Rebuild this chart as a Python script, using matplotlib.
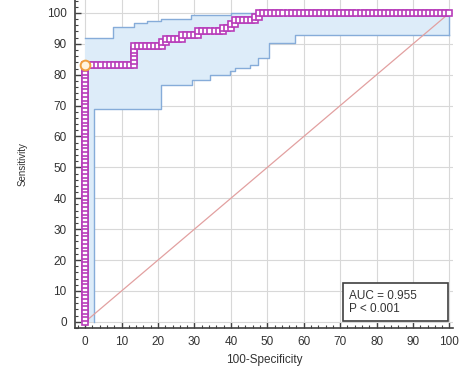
import matplotlib
matplotlib.use("Agg")
import matplotlib.pyplot as plt
from matplotlib.ticker import MultipleLocator

plt.rcParams['font.family'] = ['Liberation Sans', 'DejaVu Sans']

# ---- ROC points (100-Specificity, Sensitivity) ----
roc_fpr = [
    0, 0, 0, 0, 0, 0, 0, 0, 0, 0, 0, 0,
    0, 0, 0, 0, 0, 0, 0, 0, 0, 0, 0, 0,
    0, 0, 0, 0, 0, 0, 0, 0, 0, 0, 0, 0,
    0, 0, 0, 0, 0, 0, 0, 0, 0, 0, 0, 0,
    0, 0, 0, 0, 0, 0, 0, 0, 0, 0, 0, 0,
    0, 0, 0, 0, 0, 0, 0, 0, 0, 0, 0,
    1.1, 2.2, 3.3, 4.4, 5.6, 6.7, 7.8, 8.9, 10.0, 11.1, 12.2, 13.3,
    13.3, 13.3, 13.3, 13.3, 13.3,
    14.4, 15.6, 16.7, 17.8, 18.9, 20.0, 21.1,
    21.1, 22.2,
    22.2, 23.3, 24.4, 25.6, 26.7,
    26.7, 27.8, 28.9, 30.0, 31.1,
    31.1, 32.2, 33.3, 34.4, 35.6, 36.7, 37.8,
    37.8, 38.9, 40.0,
    40.0, 41.1,
    41.1, 42.2, 43.3, 44.4, 45.6, 46.7,
    46.7, 47.8,
    47.8, 48.9, 50.0, 51.1, 52.2, 53.3, 54.4, 55.6, 56.7, 57.8, 58.9, 60.0,
    61.1, 62.2, 63.3, 64.4, 65.6, 66.7, 67.8, 68.9, 70.0, 71.1, 72.2, 73.3,
    74.4, 75.6, 76.7, 77.8, 78.9, 80.0, 81.1, 82.2, 83.3, 84.4, 85.6, 86.7,
    87.8, 88.9, 90.0, 91.1, 92.2, 93.3, 94.4, 95.6, 96.7, 97.8, 98.9, 100.0,
]
roc_tpr = [
    0.0, 1.2, 2.4, 3.6, 4.8, 6.0, 7.1, 8.3, 9.5, 10.7, 11.9, 13.1,
    14.3, 15.5, 16.7, 17.9, 19.0, 20.2, 21.4, 22.6, 23.8, 25.0, 26.2, 27.4,
    28.6, 29.8, 31.0, 32.1, 33.3, 34.5, 35.7, 36.9, 38.1, 39.3, 40.5, 41.7,
    42.9, 44.0, 45.2, 46.4, 47.6, 48.8, 50.0, 51.2, 52.4, 53.6, 54.8, 56.0,
    57.1, 58.3, 59.5, 60.7, 61.9, 63.1, 64.3, 65.5, 66.7, 67.9, 69.0, 70.2,
    71.4, 72.6, 73.8, 75.0, 76.2, 77.4, 78.6, 79.8, 81.0, 82.1, 83.3,
    83.3, 83.3, 83.3, 83.3, 83.3, 83.3, 83.3, 83.3, 83.3, 83.3, 83.3, 83.3,
    84.5, 85.7, 86.9, 88.1, 89.3,
    89.3, 89.3, 89.3, 89.3, 89.3, 89.3, 89.3,
    90.5, 90.5,
    91.7, 91.7, 91.7, 91.7, 91.7,
    92.9, 92.9, 92.9, 92.9, 92.9,
    94.0, 94.0, 94.0, 94.0, 94.0, 94.0, 94.0,
    95.2, 95.2, 95.2,
    96.4, 96.4,
    97.6, 97.6, 97.6, 97.6, 97.6, 97.6,
    98.8, 98.8,
    100, 100, 100, 100, 100, 100, 100, 100, 100, 100, 100, 100,
    100, 100, 100, 100, 100, 100, 100, 100, 100, 100, 100, 100,
    100, 100, 100, 100, 100, 100, 100, 100, 100, 100, 100, 100,
    100, 100, 100, 100, 100, 100, 100, 100, 100, 100, 100, 100,
]

# optimal criterion point
opt_point = (0.0, 83.3)

# ---- 95% confidence bounds (step-post) ----
ci_upper_x = [0.0, 7.6, 13.3, 17.1, 20.8, 29.0, 40.0, 100.0]
ci_upper_y = [91.8, 95.6, 96.6, 97.5, 98.2, 99.4, 100.0, 100.0]
ci_lower_x = [0.0, 2.5, 20.8, 29.3, 34.3, 39.8, 41.2, 45.3, 47.5, 50.4, 57.7, 100.0]
ci_lower_y = [0.0, 69.0, 76.7, 78.3, 79.9, 81.2, 82.3, 83.2, 85.3, 90.4, 92.9, 92.9]

auc_text = "AUC = 0.955\nP < 0.001"
x_label = "100-Specificity"
y_label = "Sensitivity"
ticks = [0, 10, 20, 30, 40, 50, 60, 70, 80, 90, 100]


def step_vertices(xs, ys):
    vx, vy = [xs[0]], [ys[0]]
    for i in range(1, len(xs)):
        vx.append(xs[i]); vy.append(ys[i - 1])
        vx.append(xs[i]); vy.append(ys[i])
    return vx, vy


fig = plt.figure(figsize=(4.6, 3.71), dpi=100)
ax = fig.add_axes([0.163, 0.116, 0.822, 0.884])
ax.set_xlim(-2.8, 101)
ax.set_ylim(-2, 104.2)

ax.grid(True, color='#d8d8d8', lw=0.8, zorder=0)
ax.set_axisbelow(True)

ux, uy = step_vertices(ci_upper_x, ci_upper_y)
lx, ly = step_vertices(ci_lower_x, ci_lower_y)
poly_x = ux + lx[::-1]
poly_y = uy + ly[::-1]
ax.fill(poly_x, poly_y, color='#ddecf9', lw=0, zorder=1)
ax.plot(ux, uy, color='#86acd9', lw=1.0, zorder=2)
ax.plot(lx[1:], ly[1:], color='#86acd9', lw=1.0, zorder=2)
ax.plot([100, 100], [ci_lower_y[-1], ci_upper_y[-1]], color='#86acd9', lw=1.0, zorder=2)

# diagonal reference line
ax.plot([0, 100], [0, 100], color='#e2a0a0', lw=0.9, zorder=2)

# ROC curve
ax.plot(roc_fpr, roc_tpr, color='#b83dba', lw=1.3, marker='s', markersize=5.0,
        markerfacecolor='white', markeredgecolor='#b83dba', markeredgewidth=1.2,
        zorder=3)
ax.plot([opt_point[0]], [opt_point[1]], marker='o', markersize=7,
        markerfacecolor='#fff4e0', markeredgecolor='#f0a040', markeredgewidth=1.4,
        zorder=4, clip_on=False)

for s in ['top', 'right']:
    ax.spines[s].set_visible(False)
for s in ['left', 'bottom']:
    ax.spines[s].set_color('#404040')
    ax.spines[s].set_linewidth(1.2)

ax.set_xticks(ticks)
ax.set_yticks(ticks)
ax.xaxis.set_minor_locator(MultipleLocator(2))
ax.yaxis.set_minor_locator(MultipleLocator(2))
ax.tick_params(which='major', direction='in', length=4, width=1.0, color='#404040',
               labelsize=8.5, labelcolor='#333333', pad=6)
ax.tick_params(which='minor', direction='in', length=2, width=0.8, color='#404040')

ax.set_xlabel(x_label, fontsize=8.5, color='#333333', labelpad=4)
ax.set_ylabel(y_label, fontsize=7, color='#333333', labelpad=14)

ax.text(72.3, 6.3, auc_text, fontsize=8.5, color='#333333', va='center', ha='left',
        linespacing=1.1, zorder=6)
ax.add_patch(plt.Rectangle((70.9, 0.1), 28.8, 12.5, facecolor='white',
                           edgecolor='#404040', lw=1.2, zorder=5))

fig.savefig("out.png", dpi=100)
